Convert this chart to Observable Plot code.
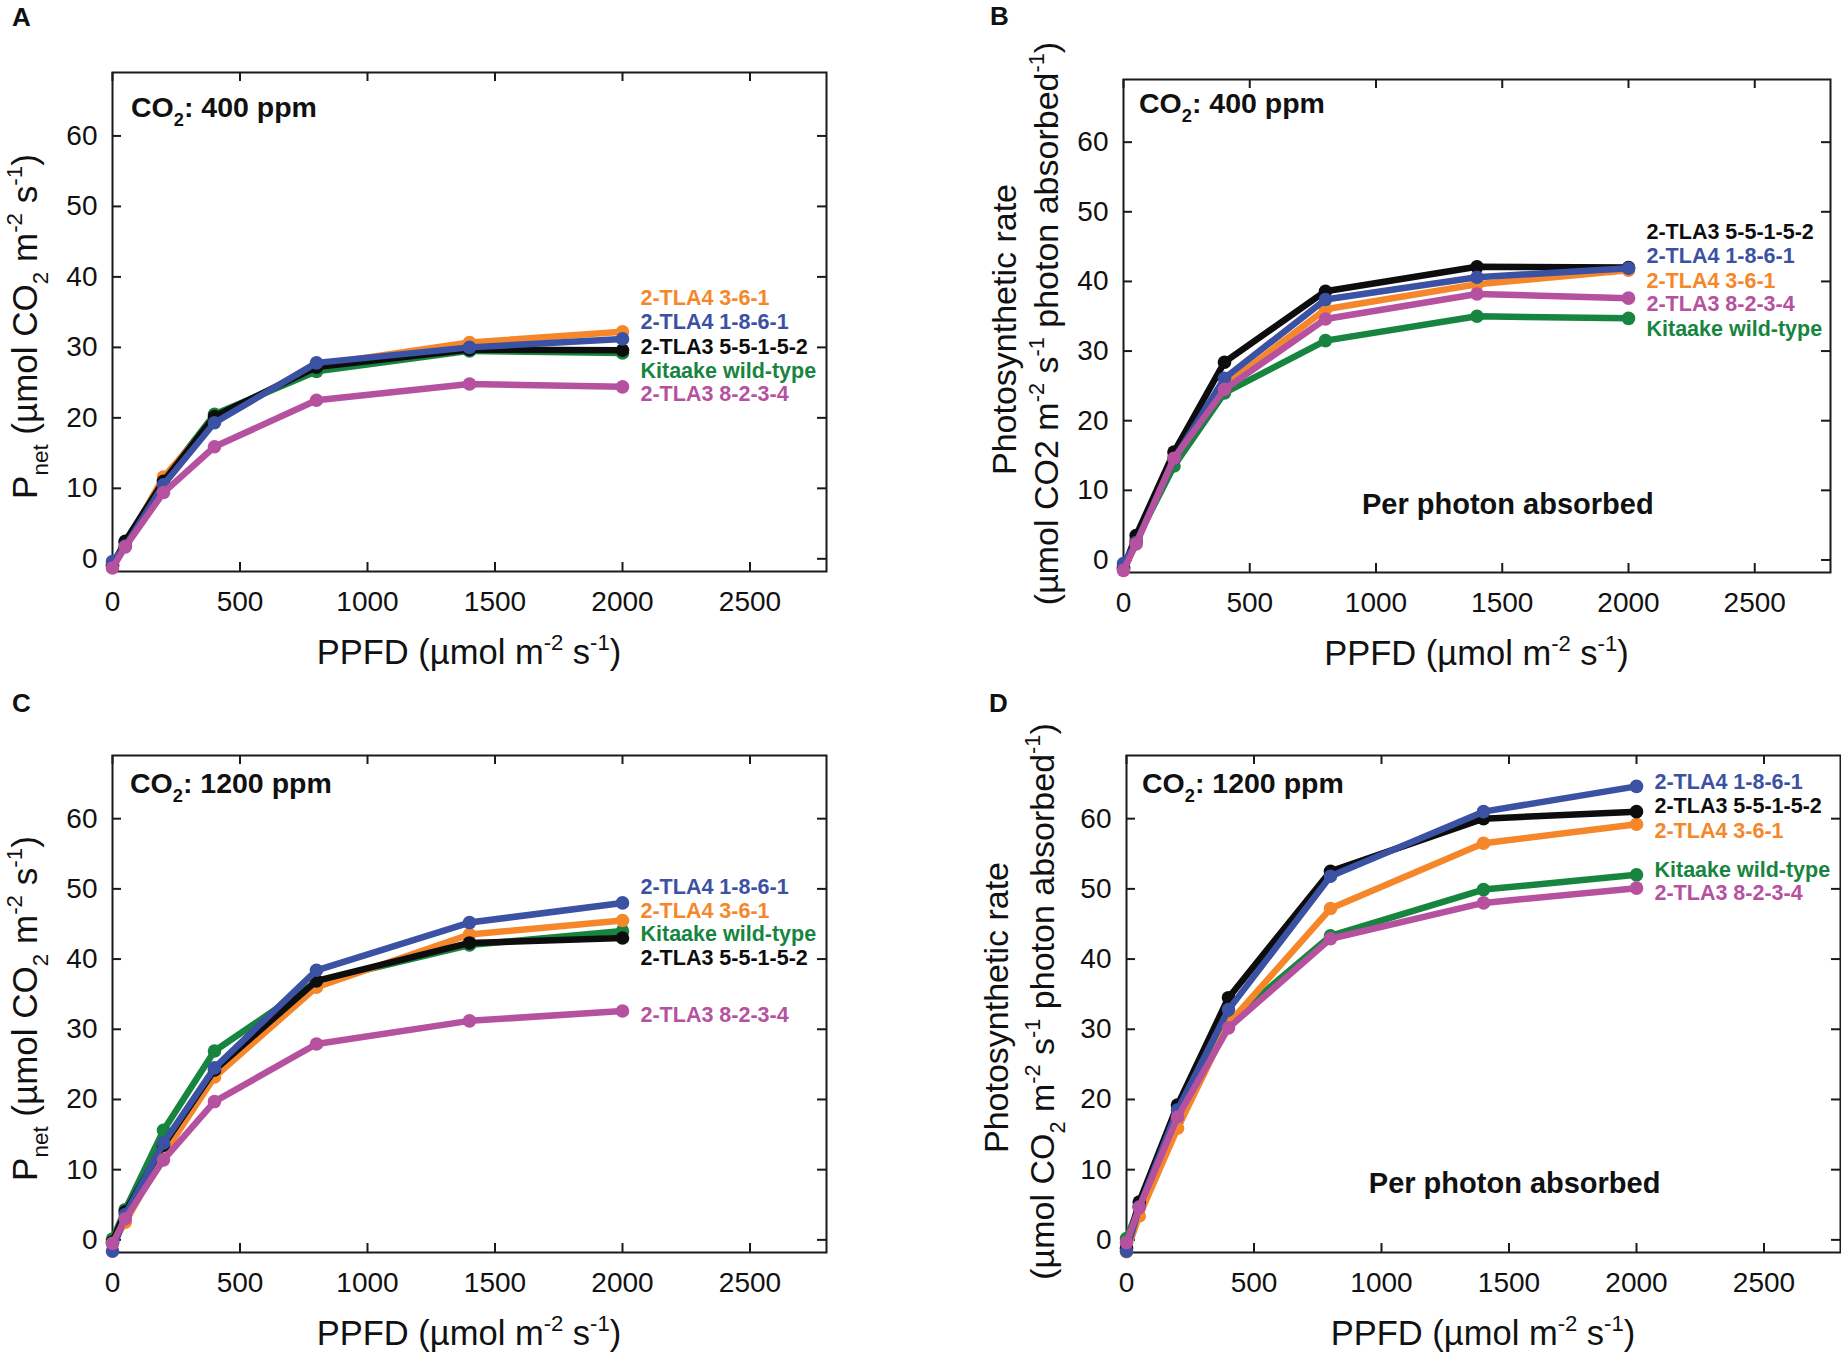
<!DOCTYPE html>
<html>
<head>
<meta charset="utf-8">
<script src="https://cdn.jsdelivr.net/npm/d3@7"></script>
<script src="https://cdn.jsdelivr.net/npm/@observablehq/plot@0.6"></script>
<style>
  html, body { margin: 0; padding: 0; background: #ffffff; }
  #root { position: relative; width: 1841px; height: 1354px; overflow: hidden; background: #fff; }
  .panel { position: absolute; }
  .panel svg { overflow: visible; }
</style>
</head>
<body>
<div id="root"></div>
<script>
const FONT = '"Liberation Sans", Arial, Helvetica, sans-serif';

// ---- shared categories ----
const ppfd = [0, 50, 200, 400, 800, 1400, 2000];
const seriesNames = ["Kitaake wild-type", "2-TLA4 3-6-1", "2-TLA3 5-5-1-5-2", "2-TLA4 1-8-6-1", "2-TLA3 8-2-3-4"];
const seriesColors = ["#17853F", "#F5872A", "#0d0d0d", "#3B51A3", "#B5519F"];
const xTicks = [0, 500, 1000, 1500, 2000, 2500];
const yTicks = [0, 10, 20, 30, 40, 50, 60];

// ---- Panel A : CO2 400 ppm, Pnet ----
const aWildType = [-0.8, 2.3, 11.2, 20.5, 26.6, 29.5, 29.2];
const aTLA4_361 = [-1.0, 2.0, 11.6, 19.8, 27.5, 30.7, 32.2];
const aTLA3_55152 = [-1.0, 2.5, 11.0, 20.2, 27.2, 29.7, 29.6];
const aTLA4_1861 = [-0.4, 1.8, 10.5, 19.3, 27.8, 30.0, 31.2];
const aTLA3_8234 = [-1.3, 1.7, 9.4, 15.9, 22.5, 24.8, 24.4];
const aLabelY = [26.7, 37.0, 30.1, 33.6, 23.3];

// ---- Panel B : CO2 400 ppm, per photon absorbed ----
const bWildType = [-1.0, 2.8, 13.5, 24.0, 31.5, 35.0, 34.7];
const bTLA4_361 = [-1.3, 2.6, 14.8, 25.0, 36.0, 39.6, 41.6];
const bTLA3_55152 = [-1.2, 3.5, 15.5, 28.4, 38.6, 42.1, 42.0];
const bTLA4_1861 = [-0.5, 2.5, 14.5, 26.1, 37.4, 40.6, 41.9];
const bTLA3_8234 = [-1.5, 2.3, 14.6, 24.5, 34.6, 38.2, 37.6];
const bLabelY = [33.1, 40.1, 47.1, 43.6, 36.7];

// ---- Panel C : CO2 1200 ppm, Pnet ----
const cWildType = [0.1, 4.3, 15.6, 26.9, 36.8, 42.0, 44.0];
const cTLA4_361 = [-0.5, 2.5, 12.2, 23.2, 36.0, 43.5, 45.5];
const cTLA3_55152 = [-0.3, 4.0, 13.5, 24.2, 36.9, 42.3, 43.0];
const cTLA4_1861 = [-1.6, 3.6, 13.8, 24.5, 38.4, 45.2, 48.0];
const cTLA3_8234 = [-0.5, 3.0, 11.4, 19.7, 27.9, 31.2, 32.6];
const cLabelY = [43.5, 46.9, 40.1, 50.3, 32.0];

// ---- Panel D : CO2 1200 ppm, per photon absorbed ----
const dWildType = [0.2, 4.8, 17.0, 31.0, 43.3, 49.9, 52.0];
const dTLA4_361 = [-1.7, 3.4, 15.9, 30.8, 47.2, 56.5, 59.2];
const dTLA3_55152 = [-1.2, 5.4, 19.2, 34.5, 52.5, 60.0, 61.0];
const dTLA4_1861 = [-1.6, 4.7, 18.5, 32.8, 51.8, 61.0, 64.6];
const dTLA3_8234 = [-0.4, 4.6, 17.5, 30.2, 42.9, 48.0, 50.1];
const dLabelY = [52.7, 58.2, 61.8, 65.2, 49.4];

// ---- texts ----
const panelLetters = ["A", "B", "C", "D"];
const co2Levels = ["400", "400", "1200", "1200"];
const perPhotonText = "Per photon absorbed";
const perPhotonPos = [1522, 8];

function rich(svg, {x, y, size, weight = "normal", anchor = "start", rotate = false, parts, fill = "#111"}) {
  const t = d3.select(svg).append("text")
    .attr("transform", rotate ? `translate(${x},${y}) rotate(-90)` : `translate(${x},${y})`)
    .attr("text-anchor", anchor)
    .attr("font-size", size)
    .attr("font-weight", weight)
    .attr("font-family", FONT)
    .attr("fill", fill)
    .style("white-space", "pre");
  let shift = 0;
  for (const [s, k] of parts) {
    const target = k === "sub" ? size * 0.32 : k === "sup" ? -size * 0.42 : 0;
    const sp = t.append("tspan").text(s).attr("dy", target - shift);
    if (k !== "n") sp.attr("font-size", size * 0.64);
    shift = target;
  }
}

function makePanel(cfg) {
  const W = cfg.w, H = cfg.h;
  const mL = cfg.fl - cfg.x, mR = cfg.x + W - cfg.fr, mT = cfg.ft - cfg.y, mB = cfg.y + H - cfg.fb;
  const iw = cfg.fr - cfg.fl, ih = cfg.fb - cfg.ft;
  const perSeries = seriesNames.map((s, i) => cfg.values[i].map((v, j) => ({x: ppfd[j], y: v, s})));
  const labels = seriesNames.map((s, i) => ({x: 2000, y: cfg.labelY[i], s}));
  const drawOrder = [0, 1, 2, 3, 4];
  const tickStyle = {stroke: "#1a1a1a", strokeWidth: 2};
  const marks = [
    Plot.frame({stroke: "#1a1a1a", strokeWidth: 2}),
    Plot.tickX(xTicks, {x: d => d, insetTop: ih - 9, ...tickStyle}),
    Plot.tickX(xTicks, {x: d => d, insetBottom: ih - 9, ...tickStyle}),
    Plot.tickY(yTicks, {y: d => d, insetRight: iw - 9, ...tickStyle}),
    Plot.tickY(yTicks, {y: d => d, insetLeft: iw - 9, ...tickStyle}),
    Plot.axisX({ticks: xTicks, tickSize: 0, tickPadding: 20, fontSize: 28, label: null, tickFormat: d => String(d), fill: "#111"}),
    Plot.axisY({ticks: yTicks, tickSize: 0, tickPadding: 15, fontSize: 28, label: null, tickFormat: d => String(d), fill: "#111"})
  ];
  for (const i of drawOrder) {
    marks.push(Plot.line(perSeries[i], {x: "x", y: "y", stroke: "s", strokeWidth: 6.5, strokeLinejoin: "round", strokeLinecap: "round"}));
    marks.push(Plot.dot(perSeries[i], {x: "x", y: "y", fill: "s", r: 6.8}));
  }
  marks.push(Plot.text(labels, {x: "x", y: "y", text: "s", fill: "s", dx: 18, textAnchor: "start", fontSize: 21.5, fontWeight: "bold"}));
  if (cfg.perPhoton) {
    marks.push(Plot.text([perPhotonText], {x: () => perPhotonPos[0], y: () => perPhotonPos[1], text: d => d, fontSize: 29, fontWeight: "bold", textAnchor: "middle", fill: "#111"}));
  }
  const svg = Plot.plot({
    width: W, height: H,
    marginLeft: mL, marginRight: mR, marginTop: mT, marginBottom: mB,
    x: {domain: [0, 2800]},
    y: {domain: [-1.8, 69]},
    color: {domain: seriesNames, range: seriesColors},
    style: {fontFamily: FONT, fontSize: "28px", background: "transparent", overflow: "visible", color: "#111"},
    marks
  });

  // panel letter
  rich(svg, {x: cfg.letterX, y: cfg.letterY, size: 26, weight: "bold", parts: [[cfg.letter, "n"]]});
  // CO2 annotation
  rich(svg, {x: mL + cfg.coDx, y: mT + cfg.coDy, size: 28.5, weight: "bold",
    parts: [["CO", "n"], ["2", "sub"], [": " + cfg.co2 + " ppm", "n"]]});
  // x-axis label
  rich(svg, {x: mL + iw / 2, y: mT + ih + 93, size: 34.5, anchor: "middle",
    parts: [["PPFD (µmol m", "n"], ["-2", "sup"], [" s", "n"], ["-1", "sup"], [")", "n"]]});
  // y-axis label
  const cy = mT + ih / 2;
  if (!cfg.perPhoton) {
    rich(svg, {x: cfg.yl1, y: cy + 5, size: 35, anchor: "middle", rotate: true,
      parts: [["P", "n"], ["net", "sub"], [" (µmol CO", "n"], ["2", "sub"], [" m", "n"], ["-2", "sup"], [" s", "n"], ["-1", "sup"], [")", "n"]]});
  } else {
    rich(svg, {x: cfg.yl1, y: cy + 4, size: 34, anchor: "middle", rotate: true, parts: [["Photosynthetic rate", "n"]]});
    const l2 = cfg.co2sub
      ? [["(µmol CO", "n"], ["2", "sub"], [" m", "n"], ["-2", "sup"], [" s", "n"], ["-1", "sup"], [" photon absorbed", "n"], ["-1", "sup"], [")", "n"]]
      : [["(µmol CO2 m", "n"], ["-2", "sup"], [" s", "n"], ["-1", "sup"], [" photon absorbed", "n"], ["-1", "sup"], [")", "n"]];
    rich(svg, {x: cfg.yl2, y: cy - 2, size: 34, anchor: "middle", rotate: true, parts: l2});
  }

  const div = document.createElement("div");
  div.className = "panel";
  div.style.left = cfg.x + "px";
  div.style.top = cfg.y + "px";
  div.appendChild(svg);
  document.getElementById("root").appendChild(div);
}

makePanel({x: 0, y: 0, w: 920, h: 677, fl: 112, fr: 826, ft: 72, fb: 571,
  values: [aWildType, aTLA4_361, aTLA3_55152, aTLA4_1861, aTLA3_8234], labelY: aLabelY,
  letter: panelLetters[0], letterX: 12, letterY: 26, co2: co2Levels[0], coDx: 19, coDy: 45,
  perPhoton: false, yl1: 37});
makePanel({x: 920, y: 0, w: 921, h: 677, fl: 1123, fr: 1830, ft: 79, fb: 572,
  values: [bWildType, bTLA4_361, bTLA3_55152, bTLA4_1861, bTLA3_8234], labelY: bLabelY,
  letter: panelLetters[1], letterX: 70, letterY: 25, co2: co2Levels[1], coDx: 16, coDy: 34,
  perPhoton: true, co2sub: false, yl1: 96, yl2: 138});
makePanel({x: 0, y: 677, w: 920, h: 677, fl: 112, fr: 826, ft: 755, fb: 1252,
  values: [cWildType, cTLA4_361, cTLA3_55152, cTLA4_1861, cTLA3_8234], labelY: cLabelY,
  letter: panelLetters[2], letterX: 12, letterY: 35, co2: co2Levels[2], coDx: 18, coDy: 38,
  perPhoton: false, yl1: 37});
makePanel({x: 920, y: 677, w: 921, h: 677, fl: 1126, fr: 1840, ft: 755, fb: 1252,
  values: [dWildType, dTLA4_361, dTLA3_55152, dTLA4_1861, dTLA3_8234], labelY: dLabelY,
  letter: panelLetters[3], letterX: 69, letterY: 35, co2: co2Levels[3], coDx: 16, coDy: 38,
  perPhoton: true, co2sub: true, yl1: 88, yl2: 134});
</script>
</body>
</html>
